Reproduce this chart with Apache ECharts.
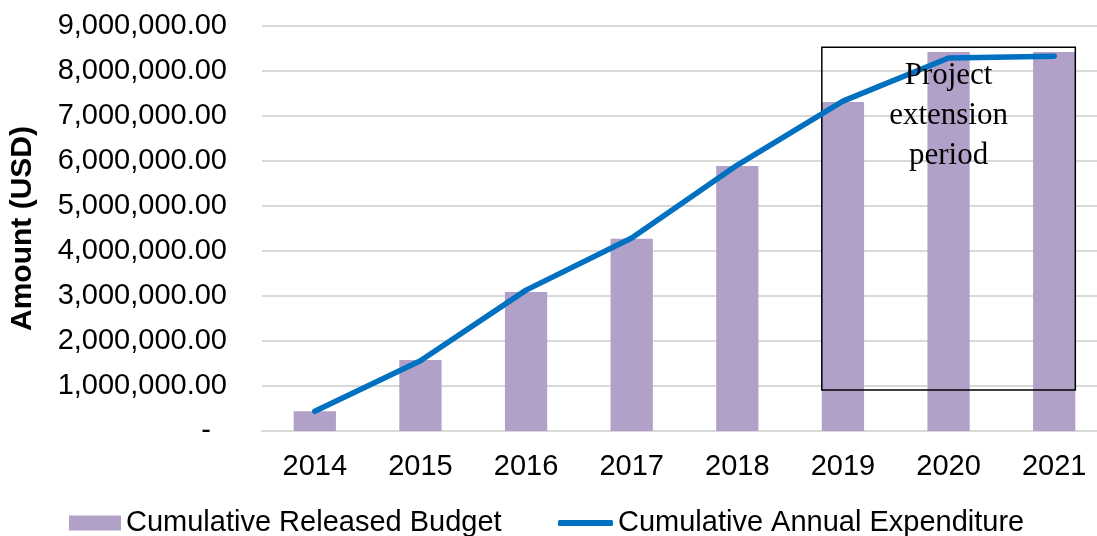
<!DOCTYPE html>
<html>
<head>
<meta charset="utf-8">
<script src="https://cdn.jsdelivr.net/npm/echarts@6/dist/echarts.min.js"></script>
<style>
html,body{margin:0;padding:0;background:#fff;overflow:hidden;width:1097px;height:536px;}
#chart{width:1107px;height:536px;}
</style>
</head>
<body>
<div id="chart"></div>
<script>
const years = ['2014','2015','2016','2017','2018','2019','2020','2021'];
const releasedBudget = [440000, 1580000, 3090000, 4270000, 5890000, 7310000, 8420000, 8420000];
const annualExpenditure = [440000, 1560000, 3130000, 4290000, 5910000, 7330000, 8290000, 8330000];
const yTicks = [0, 1000000, 2000000, 3000000, 4000000, 5000000, 6000000, 7000000, 8000000, 9000000];
const extensionYears = ['2019', '2021'];
const extensionBox = [910000, 8530000];
const noteText = ['Project', 'extension', 'period'];
const noteCenter = ['2020', 7000000];

const FONT = 'Liberation Sans, Arial, sans-serif';
const chart = echarts.init(document.getElementById('chart'), null, {renderer: 'canvas'});

function fmt(v) {
  if (v === 0) return '-  ';
  return v.toLocaleString('en-US', {minimumFractionDigits: 2, maximumFractionDigits: 2});
}

chart.setOption({
  animation: false,
  backgroundColor: '#ffffff',
  grid: {left: 261, top: 26, right: 0, bottom: 105, containLabel: false},
  legend: [
    {
      data: [{name: 'Cumulative Released Budget', icon: 'rect'}],
      left: 69, top: 508, padding: 0,
      itemWidth: 52, itemHeight: 15, itemGap: 5,
      textStyle: {fontFamily: FONT, fontSize: 29, color: '#000', lineHeight: 30}
    },
    {
      data: [{name: 'Cumulative Annual Expenditure', icon: 'roundRect'}],
      left: 558, top: 508, padding: 0,
      itemWidth: 55, itemHeight: 6, itemGap: 4,
      itemStyle: {color: '#0070c0', borderWidth: 0},
      lineStyle: {width: 0},
      textStyle: {fontFamily: FONT, fontSize: 29, color: '#000', lineHeight: 30}
    }
  ],
  xAxis: {
    type: 'category',
    data: years,
    axisLine: {show: true, lineStyle: {color: '#d9d9d9', width: 2}},
    axisTick: {show: false},
    axisLabel: {fontFamily: FONT, fontSize: 29, color: '#000', margin: 21}
  },
  yAxis: {
    type: 'value',
    min: 0, max: 9000000, interval: 1000000,
    name: 'Amount (USD)',
    nameLocation: 'middle',
    nameGap: 224,
    nameTextStyle: {fontFamily: FONT, fontSize: 30, fontWeight: 'bold', color: '#000'},
    axisLine: {show: false},
    axisTick: {show: false},
    splitLine: {lineStyle: {color: '#d9d9d9', width: 2}},
    axisLabel: {fontFamily: FONT, fontSize: 29, color: '#000', margin: 35, formatter: fmt}
  },
  series: [
    {
      name: 'Cumulative Released Budget',
      type: 'bar',
      data: releasedBudget,
      barWidth: '40%',
      itemStyle: {color: '#b1a0c7'},
      z: 2
    },
    {
      name: 'Cumulative Annual Expenditure',
      type: 'line',
      data: annualExpenditure,
      showSymbol: false,
      symbol: 'none',
      lineStyle: {color: '#0070c0', width: 5.5, cap: 'round', join: 'round'},
      itemStyle: {color: '#0070c0'},
      z: 5
    }
  ]
});

function drawBox() {
  const i0 = years.indexOf(extensionYears[0]);
  const i1 = years.indexOf(extensionYears[1]);
  const pA = chart.convertToPixel({gridIndex: 0}, [i0, extensionBox[1]]);
  const pB = chart.convertToPixel({gridIndex: 0}, [i1, extensionBox[0]]);
  const band = chart.convertToPixel({gridIndex: 0}, [1, 0])[0] - chart.convertToPixel({gridIndex: 0}, [0, 0])[0];
  const half = band * 0.4 / 2;
  const x0 = pA[0] - half, x1 = pB[0] + half;
  const c = chart.convertToPixel({gridIndex: 0}, [years.indexOf(noteCenter[0]), noteCenter[1]]);
  chart.setOption({
    graphic: [
      {
        type: 'rect', z: 4,
        shape: {x: x0, y: pA[1], width: x1 - x0, height: pB[1] - pA[1]},
        style: {fill: null, stroke: '#000', lineWidth: 1.5}
      },
      {
        type: 'text', z: 6,
        x: c[0], y: c[1],
        style: {
          text: noteText.join('\n'),
          font: '31px "Liberation Serif", "Times New Roman", serif',
          fill: '#000', align: 'center', verticalAlign: 'middle', lineHeight: 40
        }
      }
    ]
  });
}
drawBox();
</script>
</body>
</html>
